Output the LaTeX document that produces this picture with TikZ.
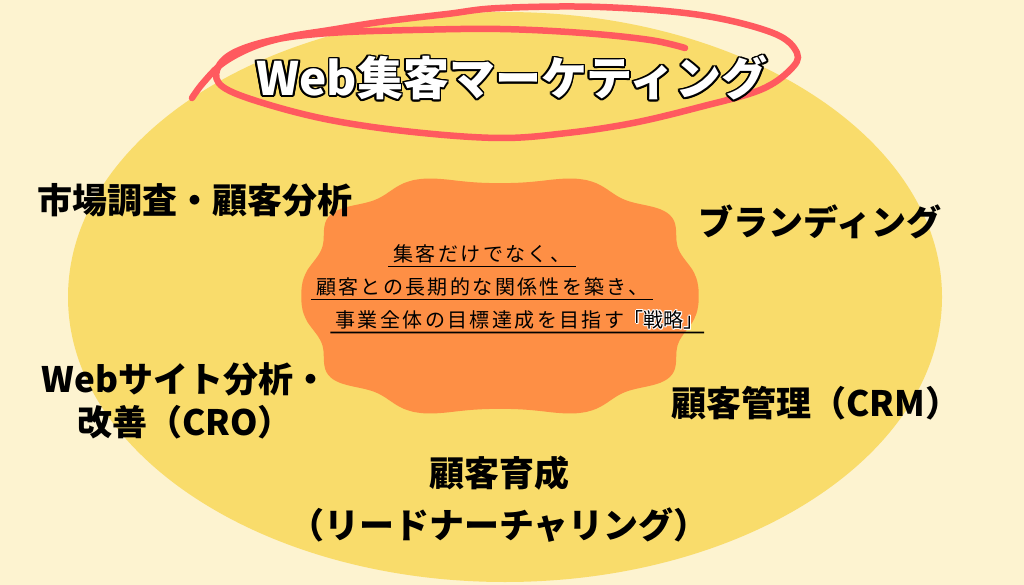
\documentclass[tikz,border=0pt]{standalone}
\usepackage{fontspec}
\newfontfamily\jpfont{Noto Sans CJK JP}
\newfontfamily\jpspaced{Noto Sans CJK JP}[LetterSpace=12]
\definecolor{bgcream}{HTML}{FDF3D0}
\definecolor{sunyellow}{HTML}{F9DC6B}
\definecolor{bloborange}{HTML}{FE8F45}
\definecolor{markred}{HTML}{FF5A5F}

\tikzset{
  topic/.style={font=\jpfont\bfseries\fontsize{35}{43}\selectfont, align=center, inner sep=0pt},
  titletext/.style={font=\jpfont\bfseries\fontsize{46}{50}\selectfont, inner sep=0pt},
  note/.style={font=\jpspaced\fontsize{20}{22}\selectfont, inner xsep=5pt, inner ysep=3pt},
  underline/.style={line width=1.6pt}
}

\begin{document}
\begin{tikzpicture}[x=1pt, y=-1pt]

\useasboundingbox (0,0) rectangle (1024,585);
\fill[bgcream] (0,0) rectangle (1024,585);
\fill[sunyellow] (505,297) ellipse [x radius=437pt, y radius=285pt];

% wavy blob in the middle
\fill[bloborange] plot[smooth cycle, domain=1.5:358.5, samples=120, variable=\t]
  ({500+192*(1+0.035*cos(10*\t))*sign(cos(\t))*abs(cos(\t))^0.75},
   {296+117*(1+0.035*cos(10*\t))*sign(sin(\t))*abs(sin(\t))^0.75});

% red hand drawn loop
\draw[markred, line width=6.5pt, line cap=round] plot[smooth, tension=0.6] coordinates {
  (192,98) (203,83) (223,63) (253,47) (287,37) (330,30) (380,22) (447,14)
  (500,8) (600,7) (700,15) (773,33) (797,53) (790,70) (760,90) (700,107)
  (633,123) (567,133) (500,138) (413,132) (330,120) (263,103) (223,87)
  (217,70) (233,53) (273,40) (330,33) (413,30) (500,29) (583,33) (650,40) (685,48)};

% title with outline
\foreach \a in {0,30,...,330}
  \node[titletext, text=black, shift={(\a:1.8pt)}] (titlehalo\a) at (512,78) {Web集客マーケティング};
\node[titletext, text=white] (title) at (512,78) {Web集客マーケティング};

\node[topic] (research) at (195,200) {市場調査・顧客分析};
\node[topic] (branding) at (820,222) {ブランディング};
\node[topic] (webcro) at (185,401) {Webサイト分析・\\改善（CRO）};
\node[topic] (crm) at (816,403) {顧客管理（CRM）};
\node[topic, font=\jpfont\bfseries\fontsize{35}{52}\selectfont] (nurture) at (499,499) {顧客育成\\（リードナーチャリング）};

\node[note] (line1) at (482,254) {集客だけでなく、};
\node[note] (line2) at (482,287) {顧客との長期的な関係性を築き、};
\node[note] (line3) at (480,320) {事業全体の目標達成を目指す};
\foreach \a in {0,45,...,315}
  \node[note, font=\jpfont\fontsize{20}{22}\selectfont, text=white, inner xsep=0pt, anchor=base west, xshift=-6pt, shift={(\a:1pt)}] (strathalo\a) at (line3.base east) {「戦略」};
\node[note, font=\jpfont\fontsize{20}{22}\selectfont, inner xsep=0pt, anchor=base west, xshift=-6pt] (strategy) at (line3.base east) {「戦略」};

\draw[underline] (line1.south west) -- (line1.south east);
\draw[underline] (line2.south west) -- (line2.south east);
\draw[underline] (line3.south west) -- (strategy.south east);

\end{tikzpicture}
\end{document}
